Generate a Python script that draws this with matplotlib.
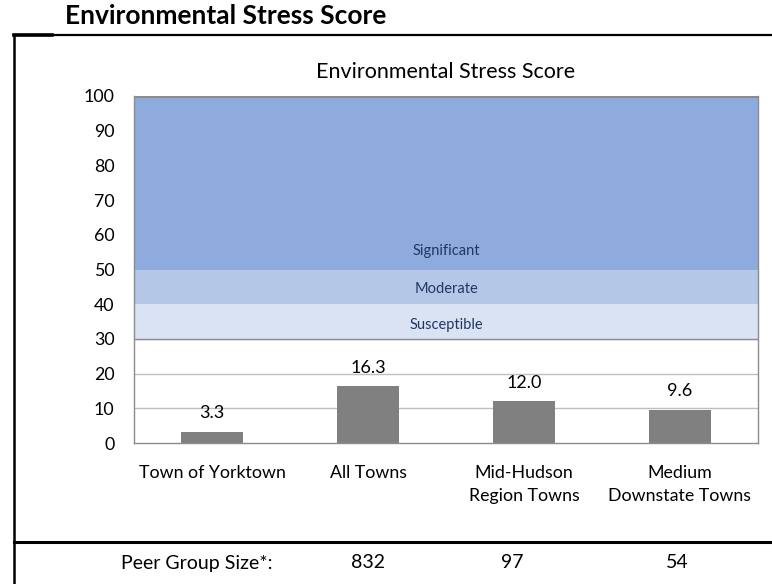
import matplotlib
matplotlib.use("Agg")
import matplotlib.pyplot as plt
from matplotlib.lines import Line2D

plt.rcParams['font.family'] = ['Lato', 'DejaVu Sans']

categories = ["Town of Yorktown", "All Towns", "Mid-Hudson\nRegion Towns", "Medium\nDownstate Towns"]
values = [3.3, 16.3, 12.0, 9.6]
value_labels = ["3.3", "16.3", "12.0", "9.6"]
peer_label = "Peer Group Size*:"
peer_sizes = ["832", "97", "54"]
band_bounds = [(30, 40), (40, 50), (50, 100)]
band_names = ["Susceptible", "Moderate", "Significant"]
band_label_y = [34, 44.5, 55.2]
band_colors = ["#DAE3F3", "#B4C7E7", "#8FAADC"]
yticks = list(range(0, 101, 10))

W, H = 772, 584
fig = plt.figure(figsize=(W / 100, H / 100), dpi=100)

def fx(px):
    return px / W

def fy(py):
    return 1 - py / H

ax = fig.add_axes([fx(134), fy(443), fx(758) - fx(134), fy(96) - fy(443)])
ax.set_xlim(-0.5, len(categories) - 0.5)
ax.set_ylim(0, 100)

# gridlines
for t in yticks[1:]:
    ax.axhline(t, color="#BFBFBF", lw=1, zorder=0.5)

for (lo, hi), c in zip(band_bounds, band_colors):
    ax.axhspan(lo, hi, color=c, lw=0, zorder=1)
ax.axhline(band_bounds[0][0], color="#8C8C8C", lw=1, zorder=1.5)
ax.axhline(100, color="#8C8C8C", lw=2.2, zorder=1.5)

for (lo, hi), name, yl in zip(band_bounds, band_names, band_label_y):
    ax.text(1.5, yl, name, ha="center", va="center", fontsize=10.5,
            color="#1F3864", zorder=3)

x = list(range(len(categories)))
ax.bar(x, values, width=0.4, color="#808080", zorder=2)
for xi, v, lab in zip(x, values, value_labels):
    ax.annotate(lab, (xi, v), xytext=(0, 13.5), textcoords="offset points",
                ha="center", va="center", fontsize=13, color="#000000")

ax.set_xticks(x)
ax.set_xticklabels(categories, fontsize=12.8, linespacing=1.55)
ax.set_yticks(yticks)
ax.set_yticklabels([str(t) for t in yticks], fontsize=12.8)
ax.tick_params(axis="both", length=0)
ax.tick_params(axis="y", pad=14)
ax.tick_params(axis="x", pad=16)
for s in ax.spines.values():
    s.set_color("#8C8C8C")
    s.set_linewidth(1)
ax.spines["top"].set_visible(False)

ax.set_title("Environmental Stress Score", fontsize=15.5, pad=13)

# outer frame
lines = [
    ([14, 772], [35, 35], 1.6),
    ([14, 52], [35, 35], 2.6),
    ([14, 14], [35, 584], 1.8),
    ([14, 772], [542, 542], 2.2),
]
for xs, ys, lw in lines:
    fig.add_artist(Line2D([fx(v) for v in xs], [fy(v) for v in ys],
                          color="black", lw=lw, transform=fig.transFigure))

fig.text(fx(65), fy(16), "Environmental Stress Score", fontsize=19,
         fontweight="bold", ha="left", va="center")

fig.text(fx(197), fy(563), peer_label, fontsize=14, ha="center", va="center")
for px, s in zip([368, 512, 677], peer_sizes):
    fig.text(fx(px), fy(563), s, fontsize=14, ha="center", va="center")

fig.savefig("out.png", dpi=100)
